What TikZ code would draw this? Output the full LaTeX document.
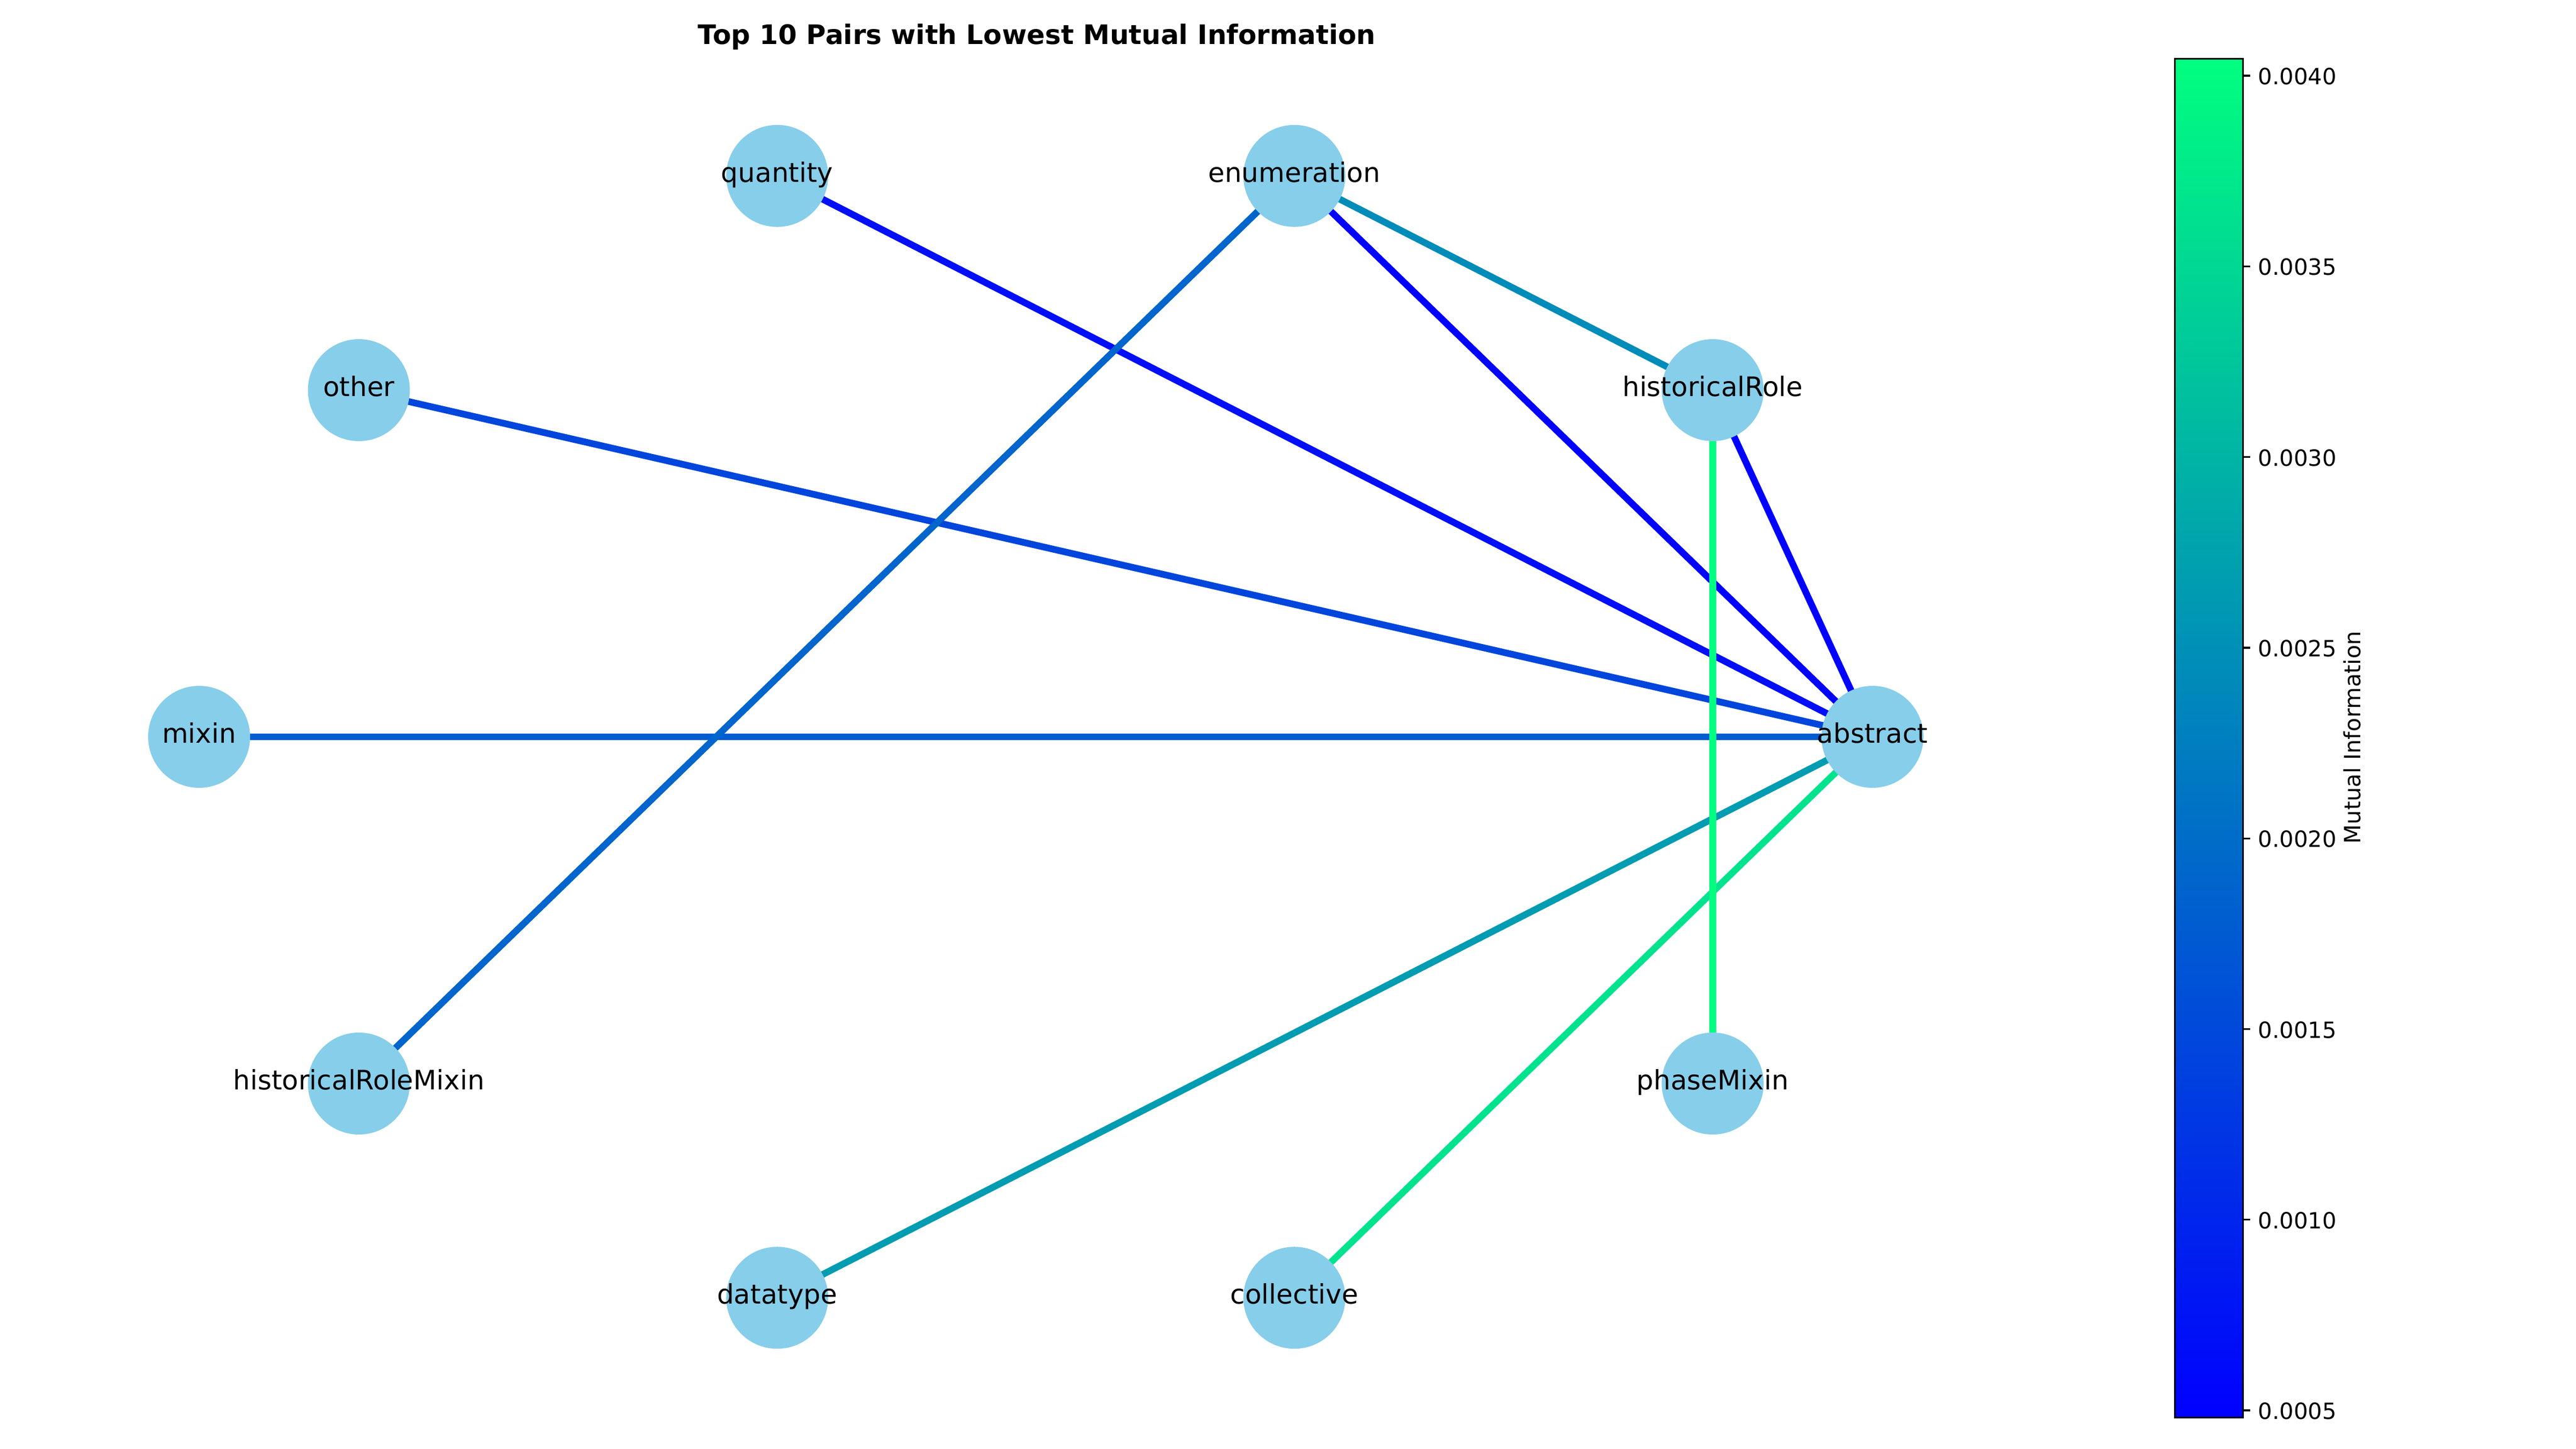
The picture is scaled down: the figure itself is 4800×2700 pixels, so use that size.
\documentclass[tikz,border=0pt]{standalone}
\usepackage{fontspec}
\setmainfont{DejaVu Sans}
\usetikzlibrary{backgrounds}
\definecolor{skyb}{HTML}{87CEEB}
\definecolor{cQA}{rgb}{0,0.06,0.97}
\definecolor{cOA}{rgb}{0,0.275,0.862}
\definecolor{cMA}{rgb}{0,0.36,0.82}
\definecolor{cEA}{rgb}{0,0,1}
\definecolor{cHA}{rgb}{0,0.005,0.997}
\definecolor{cDA}{rgb}{0,0.61,0.695}
\definecolor{cCA}{rgb}{0,0.89,0.555}
\definecolor{cEH}{rgb}{0,0.55,0.725}
\definecolor{cEM}{rgb}{0,0.395,0.80}
\definecolor{cHP}{rgb}{0,1,0.5}
\definecolor{wlo}{rgb}{0,0,1}
\definecolor{whi}{rgb}{0,1,0.5}
\tikzset{
  vtx/.style={circle, fill=skyb, draw=none, inner sep=0pt, minimum size=45.6pt},
  lbl/.style={inner sep=0pt, font=\fontsize{12}{14}\selectfont, text height=0.78em, text depth=0.22em},
  edgeline/.style={line width=3pt},
  tickline/.style={line width=0.8pt},
  ticklbl/.style={inner sep=0pt, anchor=base west, font=\fontsize{10}{12}\selectfont},
}
\begin{document}
\begin{tikzpicture}[x=0.24pt, y=-0.24pt]
\useasboundingbox (0,0) rectangle (4800,2700);
% title
\node[inner sep=0pt, anchor=base, font=\fontsize{12}{14}\selectfont\bfseries] (title) at (1932,83) {Top 10 Pairs with Lowest Mutual Information};
% vertices
\node[vtx] (abstract) at (3489,1373) {};
\node[vtx] (historicalRole) at (3191.3,727) {};
\node[vtx] (enumeration) at (2411.8,327.8) {};
\node[vtx] (quantity) at (1448.2,327.8) {};
\node[vtx] (other) at (668.7,727) {};
\node[vtx] (mixin) at (371,1373) {};
\node[vtx] (historicalRoleMixin) at (668.7,2019) {};
\node[vtx] (datatype) at (1448.2,2418.2) {};
\node[vtx] (collective) at (2411.8,2418.2) {};
\node[vtx] (phaseMixin) at (3191.3,2019) {};
% edges
\begin{scope}[on background layer]
\draw[edgeline, cQA] (quantity.center) -- (abstract.center);
\draw[edgeline, cOA] (other.center) -- (abstract.center);
\draw[edgeline, cMA] (mixin.center) -- (abstract.center);
\draw[edgeline, cEA] (enumeration.center) -- (abstract.center);
\draw[edgeline, cHA] (historicalRole.center) -- (abstract.center);
\draw[edgeline, cDA] (datatype.center) -- (abstract.center);
\draw[edgeline, cCA] (collective.center) -- (abstract.center);
\draw[edgeline, cEH] (enumeration.center) -- (historicalRole.center);
\draw[edgeline, cEM] (enumeration.center) -- (historicalRoleMixin.center);
\draw[edgeline, cHP] (historicalRole.center) -- (phaseMixin.center);
\end{scope}
% labels
\node[lbl] (t-abstract) at (abstract) {abstract};
\node[lbl] (t-historicalRole) at (historicalRole) {historicalRole};
\node[lbl] (t-enumeration) at (enumeration) {enumeration};
\node[lbl] (t-quantity) at (quantity) {quantity};
\node[lbl] (t-other) at (other) {other};
\node[lbl] (t-mixin) at (mixin) {mixin};
\node[lbl] (t-historicalRoleMixin) at (historicalRoleMixin) {historicalRoleMixin};
\node[lbl] (t-datatype) at (datatype) {datatype};
\node[lbl] (t-collective) at (collective) {collective};
\node[lbl] (t-phaseMixin) at (phaseMixin) {phaseMixin};
% colorbar
\node[draw=black, line width=0.8pt, bottom color=wlo, top color=whi, inner sep=0pt,
      minimum width=30.48pt, minimum height=607.68pt, anchor=north west] (cbar) at (4051,108) {};
\foreach \v/\y in {0.0040/141, 0.0035/496.3, 0.0030/851.6, 0.0025/1206.9, 0.0020/1562.2, 0.0015/1917.5, 0.0010/2272.8, 0.0005/2628} {
  \draw[tickline] (4178,\y) -- (4192.6,\y);
  \node[ticklbl] (tk\y) at (4207,\y+16.5) {\v};
}
\node[inner sep=0pt, anchor=base, rotate=90, font=\fontsize{10}{12}\selectfont] (cbarlabel) at (4398,1374) {Mutual Information};
\end{tikzpicture}
\end{document}
